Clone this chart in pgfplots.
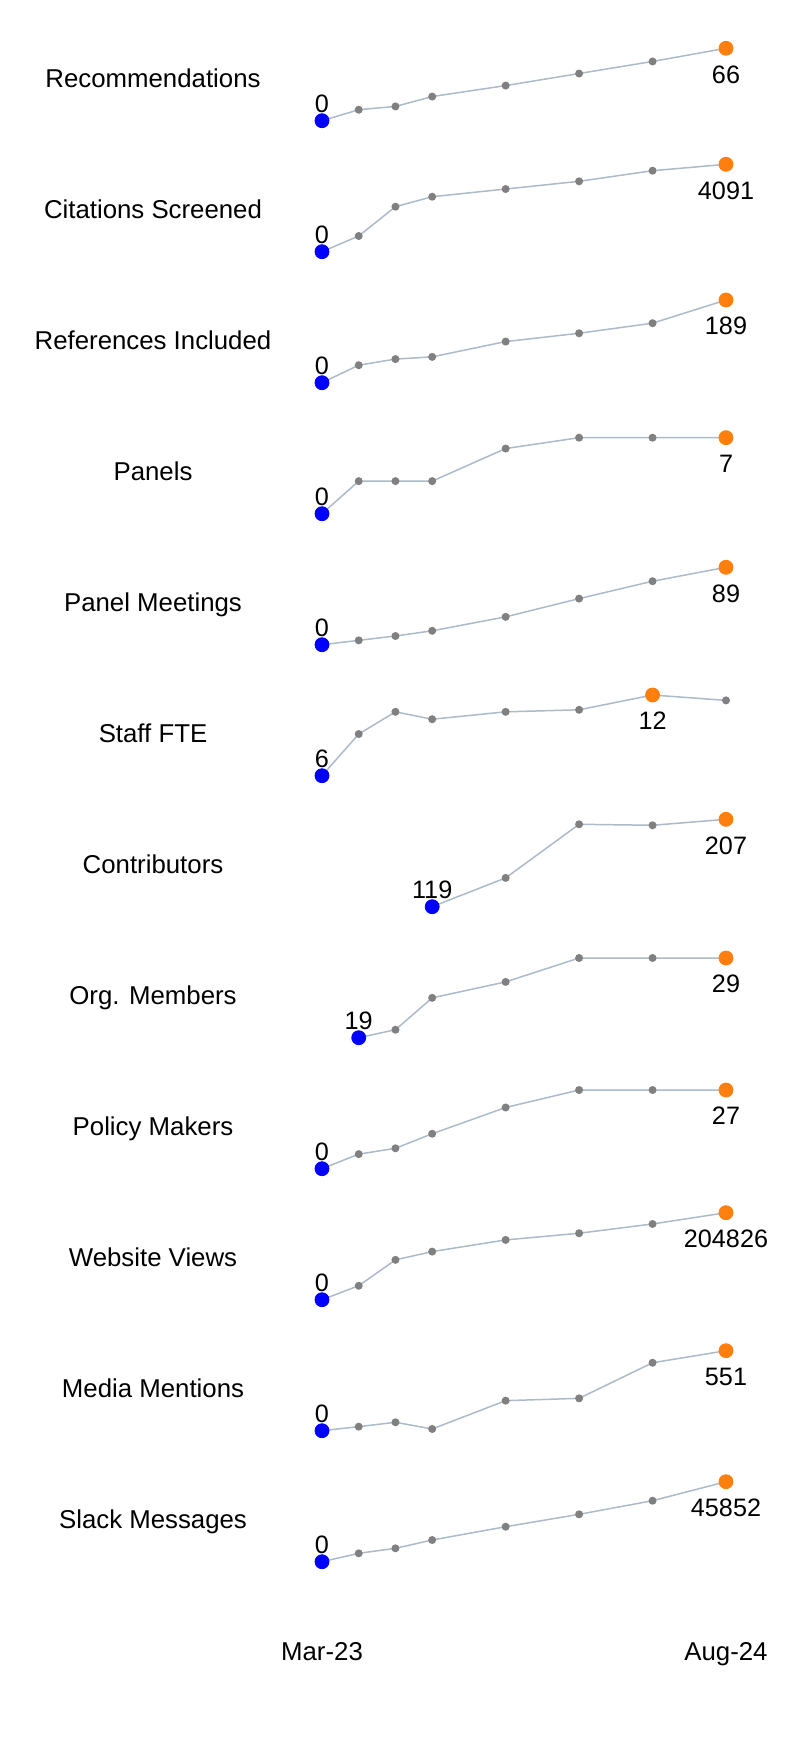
\documentclass[border=0pt]{standalone}
\usepackage{fontspec}
\setmainfont{Liberation Sans}
\usepackage{pgfplots}
\pgfplotsset{compat=1.18}

\definecolor{linec}{RGB}{172,186,202}
\definecolor{dotc}{RGB}{128,128,128}
\definecolor{startc}{RGB}{0,0,255}
\definecolor{peakc}{RGB}{255,127,14}
\newcommand\lbl{\fontsize{12.6}{15}\selectfont}
\newcommand\rlbl{\fontsize{12.9}{15}\selectfont}

% 1px of the reference = 0.5pt; x = months after Mar-23
\pgfplotsset{
  spark/.style={scale only axis, width=202pt, xmin=0, xmax=16.5,
    hide axis, clip=false, anchor=south west},
  trend/.style={color=linec, line width=0.75pt, mark=*, mark size=1.6pt,
    mark options={draw=dotc, fill=dotc}},
  first/.style={only marks, color=startc, mark=*, mark size=3.5pt,
    mark options={draw=startc, fill=startc},
    point meta=explicit symbolic, nodes near coords,
    every node near coord/.style={anchor=base, yshift=4pt, inner sep=0pt,
      text=black, font=\lbl}},
  peak/.style={only marks, color=peakc, mark=*, mark size=3.5pt,
    mark options={draw=peakc, fill=peakc},
    point meta=explicit symbolic, nodes near coords,
    every node near coord/.style={anchor=north, yshift=-8.4pt, inner sep=0pt,
      text=black, font=\lbl}},
}
\newcommand\rowlabel[2]{\node[anchor=base, font=\rlbl] at (76.5pt,#1) {#2};}

\begin{document}
\begin{tikzpicture}

% Recommendations
\begin{axis}[spark, at={(161pt,-60.35pt)}, height=36.2pt, ymin=0, ymax=66]
\addplot[trend] coordinates {(0,0) (1.5,10) (3,13) (4.5,22) (7.5,32) (10.5,43) (13.5,54) (16.5,66)};
\addplot[first] coordinates {(0,0) [0]};
\addplot[peak] coordinates {(16.5,66) [66]};
\end{axis}
\rowlabel{-43.65pt}{Recommendations}

% Citations Screened
\begin{axis}[spark, at={(161pt,-125.85pt)}, height=43.7pt, ymin=0, ymax=4091]
\addplot[trend] coordinates {(0,0) (1.5,735) (3,2106) (4.5,2574) (7.5,2934) (10.5,3295) (13.5,3791) (16.5,4091)};
\addplot[first] coordinates {(0,0) [0]};
\addplot[peak] coordinates {(16.5,4091) [4091]};
\end{axis}
\rowlabel{-109.15pt}{Citations Screened}

% References Included
\begin{axis}[spark, at={(161pt,-191.35pt)}, height=41.35pt, ymin=0, ymax=189]
\addplot[trend] coordinates {(0,0) (1.5,40) (3,54) (4.5,59) (7.5,94) (10.5,113) (13.5,136) (16.5,189)};
\addplot[first] coordinates {(0,0) [0]};
\addplot[peak] coordinates {(16.5,189) [189]};
\end{axis}
\rowlabel{-174.65pt}{References Included}

% Panels
\begin{axis}[spark, at={(161pt,-256.85pt)}, height=38pt, ymin=0, ymax=7]
\addplot[trend] coordinates {(0,0) (1.5,3) (3,3) (4.5,3) (7.5,6) (10.5,7) (13.5,7) (16.5,7)};
\addplot[first] coordinates {(0,0) [0]};
\addplot[peak] coordinates {(16.5,7) [7]};
\end{axis}
\rowlabel{-240.15pt}{Panels}

% Panel Meetings
\begin{axis}[spark, at={(161pt,-322.35pt)}, height=38.7pt, ymin=0, ymax=89]
\addplot[trend] coordinates {(0,0) (1.5,5) (3,10) (4.5,16) (7.5,32) (10.5,53) (13.5,73) (16.5,89)};
\addplot[first] coordinates {(0,0) [0]};
\addplot[peak] coordinates {(16.5,89) [89]};
\end{axis}
\rowlabel{-305.65pt}{Panel Meetings}

% Staff FTE
\begin{axis}[spark, at={(161pt,-387.85pt)}, height=40.35pt, ymin=6, ymax=12]
\addplot[trend] coordinates {(0,6) (1.5,9.1) (3,10.75) (4.5,10.2) (7.5,10.75) (10.5,10.9) (13.5,12) (16.5,11.6)};
\addplot[first] coordinates {(0,6) [6]};
\addplot[peak] coordinates {(13.5,12) [12]};
\end{axis}
\rowlabel{-371.15pt}{Staff FTE}

% Contributors
\begin{axis}[spark, at={(161pt,-453.35pt)}, height=43.7pt, ymin=119, ymax=207]
\addplot[trend] coordinates {(4.5,119) (7.5,148) (10.5,202) (13.5,201) (16.5,207)};
\addplot[first] coordinates {(4.5,119) [119]};
\addplot[peak] coordinates {(16.5,207) [207]};
\end{axis}
\rowlabel{-436.65pt}{Contributors}

% Org. Members
\begin{axis}[spark, at={(161pt,-518.85pt)}, height=39.85pt, ymin=19, ymax=29]
\addplot[trend] coordinates {(1.5,19) (3,20) (4.5,24) (7.5,26) (10.5,29) (13.5,29) (16.5,29)};
\addplot[first] coordinates {(1.5,19) [19]};
\addplot[peak] coordinates {(16.5,29) [29]};
\end{axis}
\rowlabel{-502.15pt}{Org. Members}

% Policy Makers
\begin{axis}[spark, at={(161pt,-584.35pt)}, height=39.35pt, ymin=0, ymax=27]
\addplot[trend] coordinates {(0,0) (1.5,5) (3,7) (4.5,12) (7.5,21) (10.5,27) (13.5,27) (16.5,27)};
\addplot[first] coordinates {(0,0) [0]};
\addplot[peak] coordinates {(16.5,27) [27]};
\end{axis}
\rowlabel{-567.65pt}{Policy Makers}

% Website Views
\begin{axis}[spark, at={(161pt,-649.85pt)}, height=43.5pt, ymin=0, ymax=204826]
\addplot[trend] coordinates {(0,0) (1.5,32850) (3,93850) (4.5,113300) (7.5,140760) (10.5,156460) (13.5,178300) (16.5,204826)};
\addplot[first] coordinates {(0,0) [0]};
\addplot[peak] coordinates {(16.5,204826) [204826]};
\end{axis}
\rowlabel{-633.15pt}{Website Views}

% Media Mentions
\begin{axis}[spark, at={(161pt,-715.35pt)}, height=40pt, ymin=0, ymax=551]
\addplot[trend] coordinates {(0,0) (1.5,28) (3,58) (4.5,12) (7.5,207) (10.5,223) (13.5,468) (16.5,551)};
\addplot[first] coordinates {(0,0) [0]};
\addplot[peak] coordinates {(16.5,551) [551]};
\end{axis}
\rowlabel{-698.65pt}{Media Mentions}

% Slack Messages, with the date axis
\begin{axis}[spark, hide x axis=false, at={(161pt,-780.85pt)}, height=40pt, ymin=0, ymax=45852,
  axis x line*=bottom, x axis line style={draw=none}, major tick length=0pt,
  xtick={0,16.5}, xticklabels={Mar-23,Aug-24},
  xticklabel style={anchor=base, yshift=-49.15pt, inner sep=0pt, font=\rlbl}]
\addplot[trend] coordinates {(0,0) (1.5,4815) (3,7680) (4.5,12440) (7.5,20060) (10.5,27170) (13.5,34960) (16.5,45852)};
\addplot[first] coordinates {(0,0) [0]};
\addplot[peak] coordinates {(16.5,45852) [45852]};
\end{axis}
\rowlabel{-764.15pt}{Slack Messages}

\pgfresetboundingbox
\useasboundingbox (0,0) rectangle (398pt,-870pt);
\end{tikzpicture}
\end{document}
